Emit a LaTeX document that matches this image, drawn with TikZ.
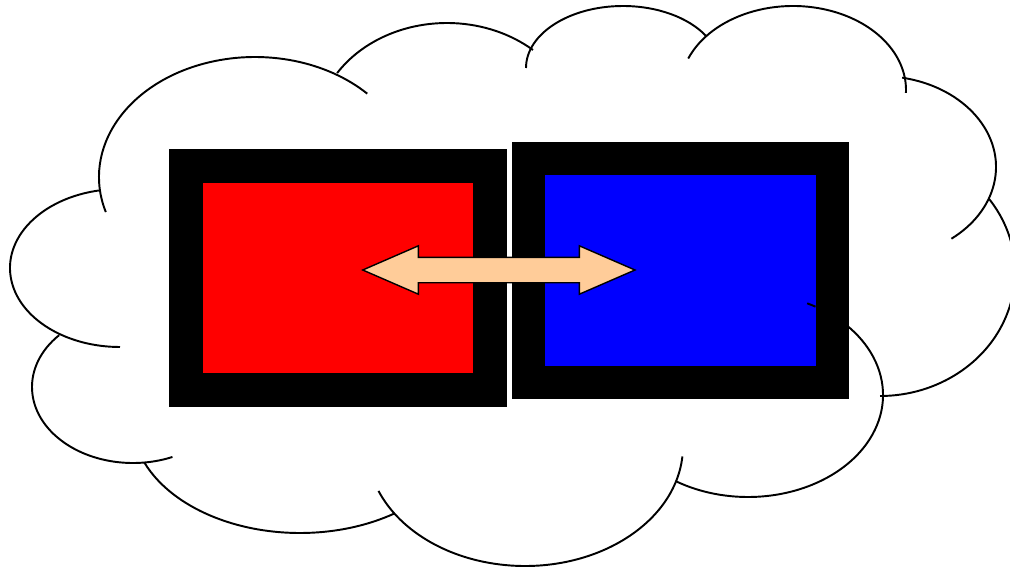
\documentclass[tikz,border=0pt]{standalone}
\usepackage{tikz}
\usetikzlibrary{shapes,shapes.arrows,calc}
\definecolor{peach}{RGB}{255,204,153}

\begin{document}
\begin{tikzpicture}[x=0.02cm,y=0.02cm,% one unit is one pixel of the drawing
					every node/.style={
						inner sep=0pt,		% empty shapes, sized only by their minimum size
						outer sep=0pt
						},
					puff/.style={draw=black,line width=1.1pt},	% one bump of the cloud
					panel/.style={rectangle,draw=black,line width=0.672cm,minimum width=6.075cm,minimum height=4.48cm}	% box with a heavy frame
					]
\useasboundingbox (0,0) rectangle (1010,569);
% cloud outline, one arc per bump: centre x / centre y / x radius / y radius / start / end
\foreach \cx/\cy/\rx/\ry/\sa/\ea in {255/392/156/120/197/44, 447/436/131/110/147/49, 623/501/97/62/180/31,
		793/479/113/84/158/-2, 880/402/116/91/79/-52, 880/297/135/124/36/-90, 748/174/135/102/64/-122,
		525/123/158/120/-5/-158, 300/149/168/113/-56/-158, 133/182/101/76/137/293, 120/301/110/79/100/270}
	\draw[puff] (\cx,\cy) ++(\sa:{\rx} and {\ry}) arc[start angle=\sa,end angle=\ea,x radius=\rx,y radius=\ry];
\node[panel,fill=red](B1) at (338.1,290.75){};
\node[panel,fill=blue](B2) at (680.5,298.65){};
\draw[puff] (748,174) ++(64:135 and 102) arc[start angle=64,end angle=60,x radius=135,y radius=102];
\node[double arrow,draw=black,fill=peach,line width=0.8pt,inner ysep=0.24cm,minimum height=5.446cm,
	double arrow head extend=0.23cm,double arrow tip angle=47](A1) at (498.85,299){};
\end{tikzpicture}
\end{document}
